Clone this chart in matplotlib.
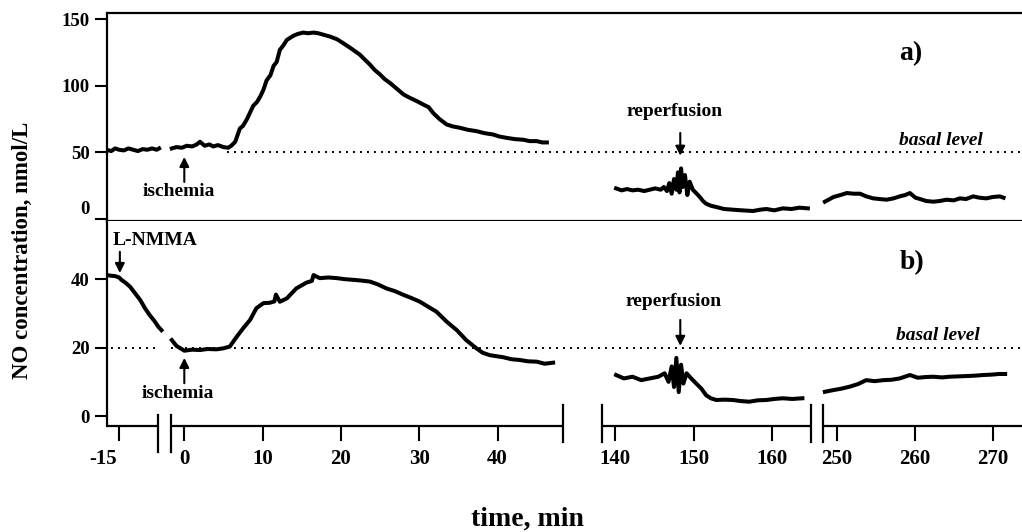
import numpy as np
import matplotlib
matplotlib.use('Agg')
import matplotlib.pyplot as plt
from matplotlib.transforms import blended_transform_factory, ScaledTranslation

plt.rcParams['font.family'] = ['Liberation Serif', 'DejaVu Serif']
plt.rcParams['font.weight'] = 'bold'

# ---------------- data (time in min, NO in nmol/L) ----------------
# panel a
a_t1 = [-16.6, -16.0, -15.5, -15.0, -14.4, -13.8, -13.2, -12.6, -12.0, -11.4, -10.8, -10.2, -9.9]
a_v1 = [52, 51, 53, 52, 51.5, 53, 52, 51, 52.5, 52, 53, 52, 53]

a_t2 = [-1.6, -1.0, -0.3, 0.3, 1.0, 1.6, 2.0, 2.6, 3.2, 3.7,
        4.3, 5.0, 5.6, 6.0, 6.5, 7.1, 7.5, 8.0, 8.4, 8.8,
        9.3, 9.7, 10.1, 10.5, 11.0, 11.4, 11.8, 12.2, 12.6, 13.1,
        13.5, 13.9, 14.5, 15.2, 15.8, 16.5, 17.1, 17.7, 18.6, 19.5,
        20.3, 21.2, 21.8, 22.4, 23.0, 23.7, 24.3, 25.0, 25.6, 26.3,
        27.1, 28.0, 28.8, 29.7, 30.5, 31.2, 31.8, 32.6, 33.5, 34.3,
        35.2, 36.2, 37.3, 38.3, 39.4, 40.2, 41.1, 42.2, 43.3, 44.1,
        45.0, 45.7, 46.3]
a_v2 = [53, 54, 53.5, 55, 54.5, 56, 58, 55, 56, 54.5,
        55.5, 54, 53.5, 55, 58, 68, 70, 75, 80, 85,
        88, 92, 97, 104, 108, 115, 118, 127, 130, 134.5,
        136, 137.5, 139, 140, 139.5, 140, 139.5, 138.5, 137, 135,
        132, 128.5, 126, 123.5, 120, 116, 112, 108.5, 105, 102,
        98, 93.5, 91, 88.5, 86, 84, 79.5, 75, 71, 69.5,
        68.5, 67, 66, 64.5, 63.5, 62, 61, 60, 59.5, 58.5,
        58.5, 57.5, 57.5]

a_t3 = [140.1, 140.8, 141.5, 142.2, 142.9, 143.7, 144.4, 145.1, 145.8, 146.2,
        146.6, 146.9, 147.2, 147.5, 147.8, 148.0, 148.2, 148.4, 148.6, 148.9,
        149.2, 149.5, 149.9, 150.4, 150.8, 151.2, 151.6, 152.2, 152.9, 153.9,
        155.0, 156.2, 157.6, 158.5, 159.3, 160.3, 161.4, 162.5, 163.5, 164.6]
a_v3 = [23, 21.5, 22.5, 21.5, 22, 21, 22, 23, 22, 24,
        21, 27, 19, 30, 22, 35, 20, 38, 24, 33,
        18, 28, 22, 19, 16.5, 13.5, 11.5, 10, 9, 7.5,
        7, 6.5, 6, 7, 7.5, 6.5, 8, 7.5, 8.5, 8]

a_t4 = [248.5, 249.6, 250.5, 251.3, 252.2, 253.0, 253.8, 254.7, 255.5, 256.4,
        257.3, 258.1, 258.8, 259.4, 260.1, 260.7, 261.5, 262.4, 263.2, 264.1,
        265.0, 265.8, 266.6, 267.5, 268.3, 269.2, 270.0, 270.9, 271.4]
a_v4 = [13, 16.5, 18, 19.5, 19, 19, 17, 15.5, 15, 14.5,
        15.5, 17, 18, 19.5, 16, 15, 13.5, 13, 13.5, 14.5,
        14, 15.5, 15, 17, 16, 15.5, 16.5, 17, 16]

# panel b
b_t1 = [-16.6, -16.0, -15.5, -15.0, -14.7, -14.2, -13.6, -13.0, -12.3, -11.7, -11.1, -10.5, -10.0, -9.6]
b_v1 = [41.2, 41, 40.9, 40.5, 39.8, 39, 37.8, 36, 33.9, 31.5, 29.5, 27.8, 26.1, 25.1]

b_t2 = [-1.6, -1.0, 0.0, 1.0, 2.0, 3.0, 4.1, 5.0, 5.8, 6.7,
        7.5, 8.4, 9.2, 10.1, 10.9, 11.5, 11.7, 12.2, 13.1, 14.3,
        15.6, 16.3, 16.5, 17.3, 18.4, 19.5, 20.5, 21.6, 22.6, 23.7,
        24.7, 25.8, 26.9, 28.0, 29.0, 30.1, 31.1, 32.2, 33.5, 34.8,
        36.0, 37.3, 38.1, 39.0, 40.7, 41.8, 42.8, 43.9, 45.0, 46.0,
        47.1]
b_v2 = [22.2, 20.5, 19.1, 19.4, 19.3, 19.6, 19.5, 19.8, 20.3, 23.2,
        25.6, 28.1, 31.5, 33.0, 33.1, 33.5, 35.5, 33.4, 34.4, 37.3,
        39.0, 39.5, 41.2, 40.3, 40.5, 40.3, 40.0, 39.8, 39.6, 39.3,
        38.5, 37.3, 36.5, 35.4, 34.5, 33.4, 32.0, 30.5, 27.6, 25.1,
        22.2, 19.8, 18.5, 17.8, 17.2, 16.6, 16.4, 16.0, 15.9, 15.3,
        15.6]

b_t3 = [140.1, 141.1, 142.2, 143.3, 144.4, 145.5, 146.3, 146.8, 147.2, 147.5,
        147.8, 148.1, 148.4, 148.7, 149.1, 149.7, 150.3, 151.0, 151.6, 152.2,
        152.9, 154.0, 155.0, 156.0, 157.1, 158.2, 159.3, 160.3, 161.4, 162.6,
        163.9]
b_v3 = [12.0, 11.0, 11.5, 10.5, 11.0, 11.5, 12.5, 10, 14.5, 8.5,
        17, 7, 15, 9.5, 12.5, 11, 9.6, 8, 6.1, 5.2,
        4.7, 4.8, 4.7, 4.4, 4.2, 4.6, 4.7, 5.0, 5.2, 5.0,
        5.2]

b_t4 = [248.5, 249.6, 250.6, 251.7, 252.8, 253.8, 254.9, 256.0, 257.0, 258.1,
        259.4, 260.4, 261.4, 262.4, 263.5, 264.5, 265.6, 266.7, 267.7, 268.8,
        269.8, 270.8, 271.6]
b_v4 = [7.1, 7.6, 8.0, 8.6, 9.4, 10.5, 10.2, 10.5, 10.6, 11.0,
        12.0, 11.2, 11.4, 11.5, 11.3, 11.5, 11.6, 11.7, 11.8, 12.0,
        12.1, 12.3, 12.3]

basal_a = 50
basal_b = 20
x_ticks = [-15, 0, 10, 20, 30, 40, 140, 150, 160, 250, 260, 270]
x_labels = ['', '0', '10', '20', '30', '40', '140', '150', '160', '250', '260', '270']
ya_ticks = [0, 50, 100, 150]
ya_labels = ['', '50', '100', '150']
yb_ticks = [0, 20, 40]
ischemia_t = 0
reperfusion_t = 148.3
lnmma_t = -14.9

# ---------------- broken time axis (piecewise-linear scale) ----------------
T_K = np.array([-16.6, -9.15, -1.7, 48.4, 138.3, 165.0, 248.3, 273.76])
V_K = np.array([106.5, 165.0, 171.0, 563.3, 602.0, 811.0, 823.3, 1022.0])
breaks_axis = [(-16.6, -10.0), (-1.7, 48.4), (138.3, 165.0), (248.3, 273.76)]


def fwd(t):
    t = np.asarray(t, float)
    out = np.interp(t, T_K, V_K)
    out = np.where(t < T_K[0], V_K[0] + (t - T_K[0]) * 7.85, out)
    out = np.where(t > T_K[-1], V_K[-1] + (t - T_K[-1]) * 7.8, out)
    return out


def inv(v):
    v = np.asarray(v, float)
    out = np.interp(v, V_K, T_K)
    out = np.where(v < V_K[0], T_K[0] + (v - V_K[0]) / 7.85, out)
    out = np.where(v > V_K[-1], T_K[-1] + (v - V_K[-1]) / 7.8, out)
    return out


W, H = 1022, 532
fig = plt.figure(figsize=(W / 100, H / 100), dpi=100)
left = 106.5 / W
width = 1 - left
ax_a = fig.add_axes([left, (H - 221) / H, width, (221 - 13) / H])
ax_b = fig.add_axes([left, (H - 426) / H, width, (426 - 221) / H])

for ax in (ax_a, ax_b):
    ax.set_xscale('function', functions=(fwd, inv))
    ax.set_xlim(T_K[0], T_K[-1])
    ax.spines['right'].set_visible(False)
    for s in ax.spines.values():
        s.set_linewidth(1.6)
    ax.tick_params(axis='y', direction='out', length=8.6, width=1.5, pad=3.6, labelsize=13.5)

ax_a.set_ylim(-1.5, 154.7)
ax_b.set_ylim(-2.9, 57.0)
ax_b.spines['top'].set_visible(False)
ax_b.spines['bottom'].set_visible(False)

line_kw = dict(color='black', lw=2.9, solid_joinstyle='round')
for t, v in [(a_t1, a_v1), (a_t2, a_v2), (a_t3, a_v3), (a_t4, a_v4)]:
    ax_a.plot(t, v, **line_kw)
for t, v in [(b_t1, b_v1), (b_t2, b_v2), (b_t3, b_v3), (b_t4, b_v4)]:
    ax_b.plot(t, v, **line_kw)

dot_kw = dict(color='black', lw=1.4, linestyles=[(0, (1, 2.6))])
ax_a.hlines(basal_a, 5.5, T_K[-1], **dot_kw)
ax_b.hlines(basal_b, -16.0, -10.0, **dot_kw)
ax_b.hlines(basal_b, -1.7, T_K[-1], **dot_kw)

# ticks
ax_a.tick_params(axis='x', bottom=False, labelbottom=False)
ax_a.set_yticks(ya_ticks)
ax_a.set_yticklabels(ya_labels)
ax_b.set_yticks(yb_ticks)
ax_b.set_xticks(x_ticks)
ax_b.set_xticklabels(x_labels)
ax_b.tick_params(axis='x', direction='out', length=10.8, width=1.5, pad=6, labelsize=15)
ax_b.minorticks_off()
ax_a.minorticks_off()

# broken bottom axis with caps
trb = blended_transform_factory(ax_b.transData, ax_b.transAxes)
for (t0, t1) in breaks_axis:
    ax_b.plot([t0, t1], [0, 0], transform=trb, color='black', lw=1.6, clip_on=False,
              solid_capstyle='butt')
cap_kw = dict(transform=trb, color='black', lw=1.6, clip_on=False)
for t in (-10.0, -1.7):
    ax_b.plot([t, t], [0.054, -0.127], **cap_kw)
for t in (48.4, 138.3, 165.0, 248.3):
    ax_b.plot([t, t], [0.102, -0.078], **cap_kw)

# shifted labels for -15 and panel-a 0
ax_b.text(-15, -0.112, '-15', fontsize=15, ha='center', va='top',
          transform=trb + ScaledTranslation(-0.16, 0, fig.dpi_scale_trans))
tra = blended_transform_factory(ax_a.transAxes, ax_a.transData)
ax_a.text(0, 0, '0', fontsize=13.5, ha='right', va='center',
          transform=tra + ScaledTranslation(-0.17, 0.10, fig.dpi_scale_trans))

# annotations
arr = dict(arrowstyle='-|>', color='black', lw=1.5, mutation_scale=14, shrinkA=0, shrinkB=0)
fs = 14
ax_a.text(0.878, 0.803, 'a)', transform=ax_a.transAxes, fontsize=20, ha='center', va='center')
ax_b.text(0.880, 0.795, 'b)', transform=ax_b.transAxes, fontsize=20, ha='center', va='center')

ax_a.annotate('', xy=(ischemia_t, 46.6), xytext=(ischemia_t, 27.8), arrowprops=arr)
ax_a.text(-0.7, 20.3, 'ischemia', fontsize=fs, ha='center', va='center')
ax_a.annotate('', xy=(reperfusion_t, 47.5), xytext=(reperfusion_t, 64.6), arrowprops=arr)
ax_a.text(147.6, 80.4, 'reperfusion', fontsize=fs, ha='center', va='center')
ax_a.text(263.4, 58.6, 'basal level', fontsize=fs, ha='center', va='center', style='italic')

ax_b.annotate('', xy=(ischemia_t, 17.0), xytext=(ischemia_t, 9.6), arrowprops=arr)
ax_b.text(-0.8, 6.7, 'ischemia', fontsize=fs, ha='center', va='center')
ax_b.annotate('', xy=(reperfusion_t, 20.5), xytext=(reperfusion_t, 28.1), arrowprops=arr)
ax_b.text(147.5, 33.6, 'reperfusion', fontsize=fs, ha='center', va='center')
ax_b.text(263.0, 23.4, 'basal level', fontsize=fs, ha='center', va='center', style='italic')
ax_b.annotate('', xy=(lnmma_t, 41.8), xytext=(lnmma_t, 48.0), arrowprops=arr)
ax_b.text(-10.4, 51.2, 'L-NMMA', fontsize=fs, ha='center', va='center')

fig.text(22 / W, 1 - 250 / H, 'NO concentration, nmol/L', rotation=90,
         ha='center', va='center', fontsize=16.5)
fig.text(527 / W, 1 - 519 / H, 'time, min', ha='center', va='center', fontsize=20)

fig.savefig('out.png', dpi=100)
